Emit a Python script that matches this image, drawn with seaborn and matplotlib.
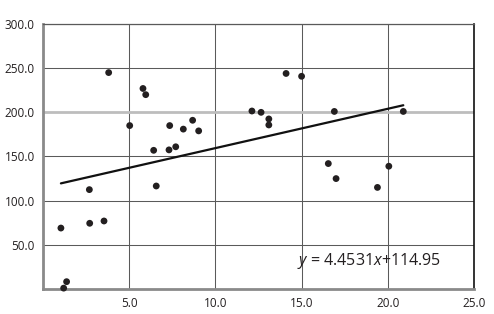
import numpy as np
import pandas as pd
import matplotlib
matplotlib.use("Agg")
import matplotlib.pyplot as plt
import seaborn as sns

x_vals = [1.04, 1.37, 1.2, 2.69, 2.71, 3.54, 3.81, 5.03, 5.8, 5.96, 6.42, 6.57, 7.31, 7.35,
          7.7, 8.14, 8.68, 9.03, 12.12, 12.65, 13.1, 13.1, 14.1, 15.0, 16.9, 20.9, 16.55,
          17.0, 19.4, 20.06]
y_vals = [69, 8.3, 1, 112.5, 74.4, 77, 245, 185, 227, 220, 157, 116.6, 157.5, 185,
          161, 181, 191, 179, 201.5, 200, 192.5, 185.7, 244, 240.8, 201, 201, 142,
          125, 115, 139]
slope = 4.4531
intercept = 114.95
x_ticks = [5, 10, 15, 20, 25]
x_labels = ["5.0", "10.0", "15.0", "20.0", "25.0"]
y_ticks = [50, 100, 150, 200, 250, 300]
y_labels = ["50.0", "100.0", "150.0", "200.0", "250.0", "300.0"]

sns.set_style("white")
plt.rcParams['font.family'] = ['Open Sans', 'DejaVu Sans']
plt.rcParams['mathtext.fontset'] = 'custom'
plt.rcParams['mathtext.rm'] = 'Open Sans'
plt.rcParams['mathtext.it'] = 'Open Sans:italic'

df = pd.DataFrame({"x": x_vals, "y": y_vals})

fig = plt.figure(figsize=(4.94, 3.14), dpi=100)
ax = fig.add_axes([0.087, 0.0796, 0.8725, 0.844])

# grid
for xv in [5, 10, 15, 20]:
    ax.axvline(xv, color="#5a5a5a", lw=0.75, zorder=0)
for yv in y_ticks:
    if yv == 200:
        ax.axhline(yv, color="#bdbdbd", lw=2.0, zorder=0)
    else:
        ax.axhline(yv, color="#5a5a5a", lw=0.75, zorder=0)

sns.scatterplot(data=df, x="x", y="y", ax=ax, color="#231f20", s=24,
                edgecolor="none", zorder=3, clip_on=False)

xl = np.array([min(x_vals), max(x_vals)])
sns.lineplot(x=xl, y=slope * xl + intercept, ax=ax, color="#111111", lw=1.6, zorder=2)

ax.set_xlim(0, 25)
ax.set_ylim(0, 300)
ax.set_xticks(x_ticks)
ax.set_xticklabels(x_labels)
ax.set_yticks(y_ticks)
ax.set_yticklabels(y_labels)
ax.tick_params(axis="both", length=0, labelsize=8.5, colors="#231f20")
ax.tick_params(axis="x", pad=6)
ax.tick_params(axis="y", pad=6)
ax.set_xlabel("")
ax.set_ylabel("")

for side in ["left", "bottom"]:
    ax.spines[side].set_color("#8a8a8a")
    ax.spines[side].set_linewidth(2.0)
ax.spines["top"].set_color("#5a5a5a")
ax.spines["top"].set_linewidth(0.9)
ax.spines["right"].set_color("#111111")
ax.spines["right"].set_linewidth(1.2)

ax.text(0.59, 0.105, "$y$ = 4.4531$x$+114.95", transform=ax.transAxes,
        fontsize=11.5, color="#231f20", ha="left", va="center")

fig.savefig("out.png", dpi=100)
